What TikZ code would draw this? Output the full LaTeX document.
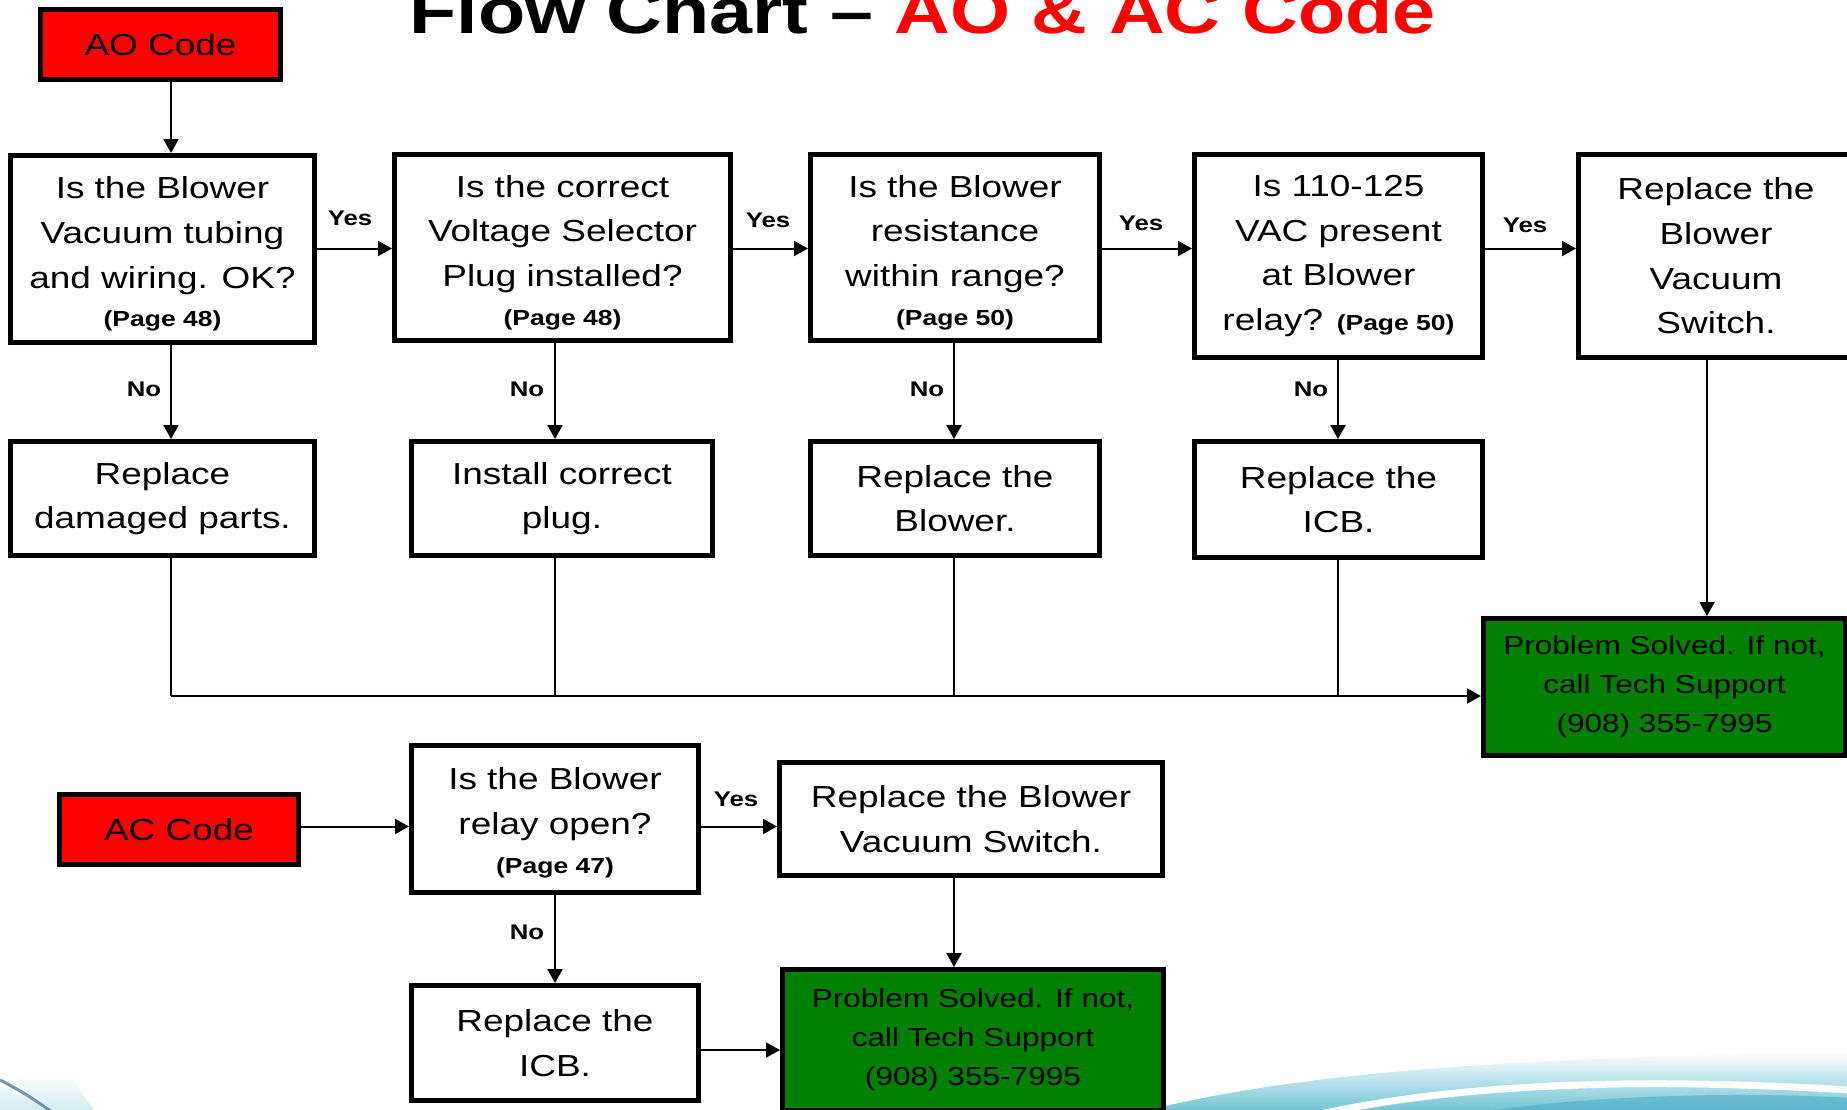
\documentclass[tikz,border=0pt]{standalone}
\usepackage{fontspec}
\usetikzlibrary{arrows.meta,calc}
\newfontfamily\arialx[FakeStretch=1.215]{Liberation Sans}
\definecolor{aored}{RGB}{255,0,0}
\definecolor{okgreen}{RGB}{0,128,0}
\definecolor{wavecyan}{RGB}{110,195,212}
\definecolor{wavedeep}{RGB}{70,170,195}
\definecolor{waveline}{RGB}{120,150,170}
\newcommand\mainf{\arialx\fontsize{15.2}{22.3}\selectfont}
\newcommand\pagef{\arialx\bfseries\fontsize{10.9}{13}\selectfont}
\newcommand\greenf{\arialx\fontsize{13}{19.4}\selectfont}
\newcommand\lblf{\arialx\bfseries\fontsize{10.6}{12}\selectfont}
\newcommand\titlef{\arialx\bfseries\fontsize{31.8}{36}\selectfont}
\newcommand\tstrut[1]{\rule{0pt}{#1}}
\tikzset{
  box/.style={draw=black, line width=2.5pt, fill=white, inner sep=0pt, align=center, font=\mainf},
  redbox/.style={box, fill=aored},
  greenbox/.style={box, fill=okgreen, font=\greenf},
  lbl/.style={font=\lblf, inner sep=0pt},
  arr/.style={line width=1pt, -{Triangle[length=7pt,width=7.5pt]}},
  ln/.style={line width=1pt},
}
\begin{document}
\begin{tikzpicture}[x=0.5pt,y=-0.5pt]
\useasboundingbox (0,0) rectangle (1847,1109);
\clip (0,0) rectangle (1847,1109);
\fill[white] (0,0) rectangle (1847,1109);

% bottom decoration
\shade[top color=white, bottom color=wavecyan]
  (1140,1112) .. controls (1300,1072) and (1500,1058) .. (1850,1052) -- (1850,1112) -- cycle;
\fill[wavedeep, opacity=0.55]
  (1480,1112) .. controls (1600,1094) and (1750,1092) .. (1850,1098) -- (1850,1112) -- cycle;
\draw[white, line width=3.5pt]
  (1320,1114) .. controls (1450,1086) and (1620,1076) .. (1850,1090);
\shade[top color=white, bottom color=wavecyan!40, opacity=0.8]
  (0,1075) -- (70,1075) -- (95,1112) -- (0,1112) -- cycle;
\draw[waveline, line width=1.5pt] (0,1080) .. controls (20,1090) and (35,1100) .. (52,1112);

% title
\node[anchor=base west, inner sep=0pt, font=\titlef] (title) at (409,33)
  {Flow Chart \textendash{} \textcolor{aored}{AO \& AC Code}};

% AO chain
\node[redbox, minimum width=120pt, minimum height=35pt] (AO) at (160.5,44.5) {AO Code};
\node[box, minimum width=152pt, minimum height=93.5pt] (B1) at (162.5,249)
  {\tstrut{16.3pt}Is the Blower\\Vacuum tubing\\and wiring. OK?\\[-2.9pt]{\pagef (Page 48)}};
\node[box, minimum width=168pt, minimum height=93pt] (B2) at (562.5,247.5)
  {\tstrut{16.1pt}Is the correct\\Voltage Selector\\Plug installed?\\[-2.9pt]{\pagef (Page 48)}};
\node[box, minimum width=144.5pt, minimum height=93pt] (B3) at (955,247.5)
  {\tstrut{16.1pt}Is the Blower\\resistance\\within range?\\[-2.9pt]{\pagef (Page 50)}};
\node[box, minimum width=144pt, minimum height=101.5pt] (B4) at (1338.5,256)
  {Is 110-125\\VAC present\\at Blower\\relay? {\pagef (Page 50)}};
\node[box, minimum width=137.5pt, minimum height=101.5pt] (B5) at (1716,256)
  {Replace the\\Blower\\Vacuum\\Switch.};

\node[box, minimum width=152pt, minimum height=57pt] (R1) at (162.5,498.5) {Replace\\damaged parts.};
\node[box, minimum width=150.5pt, minimum height=57pt] (R2) at (562,498.5) {Install correct\\plug.};
\node[box, minimum width=144.5pt, minimum height=57pt] (R3) at (955,498.5) {Replace the\\Blower.};
\node[box, minimum width=144pt, minimum height=58pt] (R4) at (1338.5,499.5) {Replace the\\ICB.};

\node[greenbox, minimum width=181pt, minimum height=68.5pt] (G1) at (1664.5,687)
  {Problem Solved. If not,\\call Tech Support\\(908) 355-7995};

% AC chain
\node[redbox, minimum width=119.5pt, minimum height=35pt] (AC) at (179,829.5) {AC Code};
\node[box, minimum width=143.5pt, minimum height=73.5pt] (Q) at (555,819)
  {\tstrut{14.6pt}Is the Blower\\relay open?\\[-2.9pt]{\pagef (Page 47)}};
\node[box, minimum width=191.5pt, minimum height=56.5pt] (S) at (971,819)
  {Replace the Blower\\Vacuum Switch.};
\node[box, minimum width=143.5pt, minimum height=57.5pt] (R5) at (555,1043) {Replace the\\ICB.};
\node[greenbox, minimum width=190.5pt, minimum height=70.5pt] (G2) at (973,1040)
  {Problem Solved. If not,\\call Tech Support\\(908) 355-7995};

% trunk coordinates
\coordinate (t1) at (171,696);
\coordinate (t2) at (555,696);
\coordinate (t3) at (954,696);
\coordinate (t4) at (1338,696);
\coordinate (t5) at (1707,696);
\coordinate (ya) at (0,826.5);
\coordinate (yb) at (0,1050);
\coordinate (yc) at (0,248.5);

% AO connectors
\draw[arr] (AO.south -| t1) -- (B1.north -| t1);
\draw[arr] (B1.east |- yc) -- (B2.west |- yc);
\draw[arr] (B2.east |- yc) -- (B3.west |- yc);
\draw[arr] (B3.east |- yc) -- (B4.west |- yc);
\draw[arr] (B4.east |- yc) -- (B5.west |- yc);
\draw[arr] (B1.south -| t1) -- (R1.north -| t1);
\draw[arr] (B2.south -| t2) -- (R2.north -| t2);
\draw[arr] (B3.south -| t3) -- (R3.north -| t3);
\draw[arr] (B4.south -| t4) -- (R4.north -| t4);
\draw[ln] (R1.south -| t1) -- (t1);
\draw[ln] (R2.south -| t2) -- (t2);
\draw[ln] (R3.south -| t3) -- (t3);
\draw[ln] (R4.south -| t4) -- (t4);
\draw[arr] (t1) -- (t1 -| G1.west);
\draw[arr] (B5.south -| t5) -- (G1.north -| t5);

% AC connectors
\draw[arr] (AC.east |- ya) -- (Q.west |- ya);
\draw[arr] (Q.east |- ya) -- (S.west |- ya);
\draw[arr] (Q.south) -- (R5.north);
\draw[arr] (S.south -| t3) -- (G2.north -| t3);
\draw[arr] (R5.east |- yb) -- (G2.west |- yb);

% labels
\node[lbl] (y1) at (350,218) {Yes};
\node[lbl] (y2) at (768,220) {Yes};
\node[lbl] (y3) at (1141,223) {Yes};
\node[lbl] (y4) at (1525,225) {Yes};
\node[lbl] (y5) at (736,799) {Yes};
\node[lbl] (n1) at (144,389) {No};
\node[lbl] (n2) at (527,389) {No};
\node[lbl] (n3) at (927,389) {No};
\node[lbl] (n4) at (1311,389) {No};
\node[lbl] (n5) at (527,932) {No};
\end{tikzpicture}
\end{document}
